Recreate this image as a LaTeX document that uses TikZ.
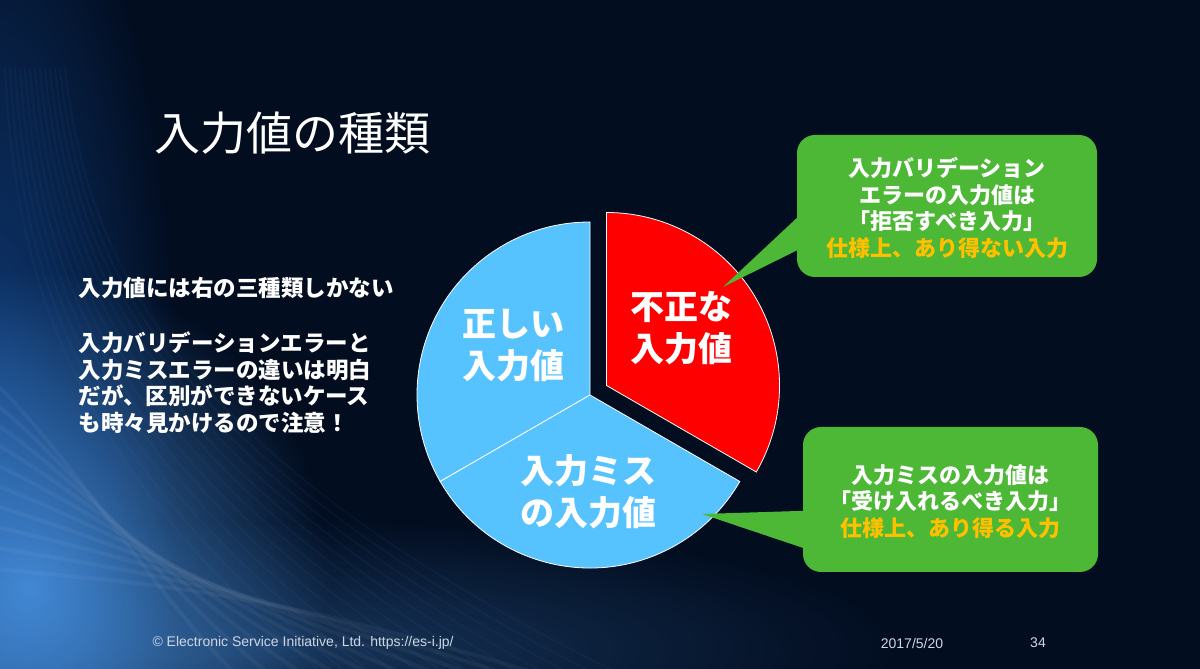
\documentclass[tikz,border=0pt]{standalone}
\usepackage{fontspec}
\usetikzlibrary{fadings}
\setmainfont{Noto Sans CJK JP}
\newfontfamily\footfont{Liberation Sans}
\definecolor{bgc}{RGB}{2,13,32}
\definecolor{glowa}{RGB}{75,150,230}
\definecolor{glowb}{RGB}{20,75,150}
\definecolor{slice}{RGB}{86,195,255}
\definecolor{redc}{RGB}{255,0,0}
\definecolor{greenc}{RGB}{76,184,54}
\definecolor{goldc}{RGB}{255,192,0}
\definecolor{footc}{RGB}{205,215,228}
\tikzfading[name=softglow, inner color=transparent!0, outer color=transparent!100]
\tikzset{
  slicebox/.style={draw=white, line width=0.8pt},
  pielabel/.style={text=white, align=center, font=\fontsize{34}{42}\selectfont\bfseries},
  callout/.style={fill=greenc, rounded corners=18pt},
  calltext/.style={text=white, align=center, font=\fontsize{22}{26.7}\selectfont\bfseries},
  bodytext/.style={text=white, align=left, anchor=west, font=\fontsize{22.5}{26.5}\selectfont\bfseries},
  foottext/.style={text=footc, font=\footfont\fontsize{14}{16}\selectfont}
}
\begin{document}
\begin{tikzpicture}[x=1pt,y=1pt]
\useasboundingbox (0,0) rectangle (1200,669);
% background
\begin{scope}
\clip (0,0) rectangle (1200,669);
\fill[bgc] (0,0) rectangle (1200,669);
% left edge glow
\fill[glowb, opacity=0.75, path fading=softglow] (-10,230) ellipse (190 and 640);
% bright bottom-left sweep
\fill[glowa, opacity=0.85, path fading=softglow] (30,80) ellipse (300 and 320);
\fill[glowa, opacity=0.3, path fading=softglow] (260,20) ellipse (640 and 130);
\foreach \k in {0,...,9}{
  \draw[white, opacity=0.045, line width=4pt] (-20,300-\k*22) .. controls (70+\k*6,220-\k*15) and (140+\k*10,90) .. (240+\k*35,-10);
}
\foreach \k in {0,...,12}{
  \draw[glowa, opacity=0.05, line width=2pt] (5+\k*5,600) .. controls (15+\k*6,420) and (50+\k*9,220) .. (330+\k*25,-10);
}
\end{scope}
% title
\node[text=white, anchor=west, font=\fontsize{46}{50}\selectfont] (title) at (151,536) {入力値の種類};
% left text
\node[bodytext] (intro) at (75,381) {入力値には右の三種類しかない};
\node[bodytext] (note) at (75,286) {入力バリデーションエラーと\\入力ミスエラーの違いは明白\\だが、区別ができないケース\\も時々見かけるので注意！};
% pie
\coordinate (C) at (590,274);
\coordinate (R) at (606.5,283.5);
\fill[slice, slicebox] (C) -- ++(90:173) arc[start angle=90, end angle=210, radius=173] -- cycle;
\fill[slice, slicebox] (C) -- ++(210:173) arc[start angle=210, end angle=330, radius=173] -- cycle;
\fill[redc, slicebox] (R) -- ++(-30:173) arc[start angle=-30, end angle=90, radius=173] -- cycle;
\node[pielabel] (correct) at (513,323) {正しい\\入力値};
\node[pielabel] (invalid) at (681,341) {不正な\\入力値};
\node[pielabel] (mistake) at (588,177) {入力ミス\\の入力値};
% callout 1
\coordinate (t1) at (723,382);
\coordinate (b1a) at (830,482);
\coordinate (b1b) at (830,435);
\fill[callout] (797,392) rectangle (1097,534);
\fill[greenc] (t1) -- (b1a) -- (b1b) -- cycle;
\node[calltext] (c1) at (947,461) {入力バリデーション\\エラーの入力値は\\「拒否すべき入力」\\\textcolor{goldc}{仕様上、あり得ない入力}};
% callout 2
\coordinate (t2) at (702,155);
\coordinate (b2a) at (830,159);
\coordinate (b2b) at (830,112);
\fill[callout] (803,97) rectangle (1098,242);
\fill[greenc] (t2) -- (b2a) -- (b2b) -- cycle;
\node[calltext] (c2) at (950,167.5) {入力ミスの入力値は\\「受け入れるべき入力」\\\textcolor{goldc}{仕様上、あり得る入力}};
% footer
\node[foottext, anchor=west] (copy) at (149,26) {© Electronic Service Initiative, Ltd. https://es-i.jp/};
\node[foottext] (date) at (912,26) {2017/5/20};
\node[foottext] (page) at (1038,26) {34};
\end{tikzpicture}
\end{document}
